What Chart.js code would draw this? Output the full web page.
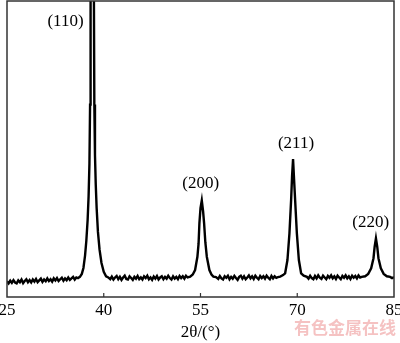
<!DOCTYPE html>
<html>
<head>
<meta charset="utf-8">
<script src="https://cdn.jsdelivr.net/npm/chart.js@4/dist/chart.umd.min.js"></script>
<style>
html,body{margin:0;padding:0;background:#fff;}
#wrap{width:400px;height:343px;}
</style>
</head>
<body>
<div id="wrap"><canvas id="c" width="400" height="343"></canvas></div>
<script>
// ---- data ----
const twoTheta = [
 25.00,25.25,25.50,25.75,26.00,26.25,26.50,26.75,27.00,27.25,27.50,27.75,28.00,28.25,28.50,28.75,
 29.00,29.25,29.50,29.75,30.00,30.25,30.50,30.75,31.00,31.25,31.50,31.75,32.00,32.25,32.50,32.75,
 33.00,33.25,33.50,33.75,34.00,34.25,34.50,34.75,35.00,35.25,35.50,35.75,
 36.00,36.30,36.60,36.85,37.10,37.30,37.50,37.65,37.78,37.88,37.96,38.20,38.46,38.54,38.64,38.76,
 38.90,39.10,39.35,39.65,40.00,40.36,40.70,
 41.00,41.25,41.50,41.75,42.00,42.25,42.50,42.75,43.00,43.25,43.50,43.75,44.00,44.25,44.50,44.75,
 45.00,45.25,45.50,45.75,46.00,46.25,46.50,46.75,47.00,47.25,47.50,47.75,48.00,48.25,48.50,48.75,
 49.00,49.25,49.50,49.75,50.00,50.25,50.50,50.75,51.00,51.25,51.50,51.75,52.00,52.25,52.50,52.75,
 53.00,53.40,53.80,54.16,54.52,54.70,54.83,55.00,55.20,55.40,55.56,55.75,55.98,56.38,56.70,57.00,57.40,
 57.75,58.00,58.25,58.50,58.75,59.00,59.25,59.50,59.75,60.00,60.25,60.50,60.75,61.00,61.25,61.50,
 61.75,62.00,62.25,62.50,62.75,63.00,63.25,63.50,63.75,64.00,64.25,64.50,64.75,65.00,65.25,65.50,
 65.75,66.00,66.25,66.50,66.75,
 67.00,67.35,67.80,68.12,68.48,68.79,69.05,69.20,69.35,69.50,69.67,69.94,70.25,70.60,71.00,71.50,
 71.75,72.00,72.25,72.50,72.75,73.00,73.25,73.50,73.75,74.00,74.25,74.50,74.75,75.00,75.25,75.50,
 75.75,76.00,76.25,76.50,76.75,77.00,77.25,77.50,77.75,78.00,78.25,78.50,78.75,79.00,79.25,79.50,79.75,
 80.00,80.53,81.00,81.46,81.82,82.00,82.20,82.40,82.59,82.96,83.40,83.89,84.40,84.70,85.00
];
const intensity = [
 5.3,4.6,5.5,4.8,5.7,4.9,4.6,5.6,5.0,5.9,4.7,5.4,6.0,5.0,5.7,4.9,
 5.9,5.2,6.1,5.0,5.6,6.2,5.1,5.9,5.3,6.3,5.4,6.0,5.2,6.3,5.6,6.4,
 5.4,6.0,6.5,5.5,6.3,5.7,6.6,5.8,6.3,6.8,5.9,6.6,
 6.4,6.8,7.8,9.8,14,19,26,34,45,65,110,1000,110,65,48,38,
 30,22,16,11.5,8.5,7.0,6.6,
 6.0,6.9,5.9,6.6,7.1,6.0,6.8,5.8,6.6,7.2,6.1,5.9,7.0,6.4,5.8,6.8,
 6.2,7.1,6.0,6.6,5.9,7.0,6.4,7.2,6.0,6.6,5.8,6.9,6.2,7.1,5.9,6.6,
 7.0,6.0,6.8,6.2,7.2,6.4,5.9,7.0,6.2,6.8,6.0,7.1,6.4,7.0,6.2,7.2,
 6.6,6.9,7.6,9.1,13.6,18,24.9,30,32.6,29,24.9,18.5,13.6,9.1,7.6,6.9,6.7,
 6.1,7.1,6.3,5.9,7.0,6.5,7.2,6.0,6.8,6.2,7.1,6.4,5.8,6.8,7.2,6.2,
 7.0,6.0,6.6,7.3,6.3,7.0,6.1,7.2,6.5,6.0,7.1,6.4,7.0,6.2,7.2,6.5,
 6.0,7.1,6.3,7.0,6.5,
 6.7,6.9,7.4,8.0,12.5,21.5,32.8,41,46.6,40,32.8,21.5,12.5,8.0,7.2,6.8,
 6.2,7.2,6.4,6.0,7.1,6.3,7.3,6.5,6.1,7.2,6.6,6.0,7.1,6.5,7.3,6.3,
 7.0,6.1,7.2,6.6,6.0,7.1,6.5,7.3,6.3,7.0,6.1,7.2,6.5,7.1,6.3,7.3,6.6,
 6.8,7.0,7.8,9.7,13.1,17,19.8,17,13.1,9.7,7.8,7.0,6.8,6.4,6.7
];
const xTickValues = [25, 40, 55, 70, 85];
const peakLabels = ['(110)', '(200)', '(211)', '(220)'];
const xAxisTitle = '2θ/(°)';
const watermark = '有色金属在线';

// ---- presentation ----
const labelPlacement = [
  {x: 34.07, y: 92.9},
  {x: 55.03, y: 38.2},
  {x: 69.81, y: 52.0},
  {x: 81.39, y: 25.2}
];

const framePlugin = {
  id: 'frame',
  afterDatasetsDraw(chart) {
    const {ctx, chartArea: a, scales} = chart;
    const xs = scales.x, ys = scales.y;
    ctx.save();
    ctx.strokeStyle = '#333';
    ctx.lineWidth = 1.5;
    ctx.strokeRect(a.left, a.top, a.right - a.left, a.bottom - a.top);
    // inward tick marks
    ctx.lineWidth = 1.2;
    xs.ticks.forEach(t => {
      if (t.value <= xs.min || t.value >= xs.max) return;
      const px = xs.getPixelForValue(t.value);
      ctx.beginPath();
      ctx.moveTo(px, a.bottom);
      ctx.lineTo(px, a.bottom - 4);
      ctx.stroke();
    });
    // peak labels
    ctx.fillStyle = '#000';
    ctx.font = '17px "Liberation Serif", "Times New Roman", serif';
    ctx.textAlign = 'center';
    ctx.textBaseline = 'middle';
    peakLabels.forEach((s, i) => {
      const p = labelPlacement[i];
      ctx.fillText(s, xs.getPixelForValue(p.x), ys.getPixelForValue(p.y));
    });
    // watermark
    ctx.fillStyle = 'rgba(232,120,120,0.45)';
    ctx.font = 'bold 17px "Noto Sans CJK SC", sans-serif';
    ctx.textAlign = 'right';
    ctx.textBaseline = 'middle';
    ctx.fillText(watermark, 396, 328);
    ctx.restore();
  }
};

new Chart(document.getElementById('c'), {
  type: 'line',
  data: {
    labels: twoTheta,
    datasets: [{
      data: twoTheta.map((t, i) => ({x: t, y: intensity[i]})),
      borderColor: '#000',
      borderWidth: 2.4,
      pointRadius: 0,
      tension: 0,
      fill: false
    }]
  },
  options: {
    responsive: false,
    animation: false,
    devicePixelRatio: 1,
    layout: {padding: {left: 7, right: 6, top: 1, bottom: 0}},
    plugins: {legend: {display: false}, tooltip: {enabled: false}},
    scales: {
      x: {
        type: 'linear',
        min: 25, max: 85,
        afterBuildTicks(axis) { axis.ticks = xTickValues.map(v => ({value: v})); },
        afterFit(axis) { axis.height = 46; axis.paddingLeft = 0; axis.paddingRight = 0; },
        grid: {display: false, drawTicks: false},
        border: {display: false},
        ticks: {
          color: '#000',
          padding: 3,
          maxRotation: 0,
          autoSkip: false,
          font: {family: '"Liberation Serif", "Times New Roman", serif', size: 17}
        },
        title: {
          display: true,
          text: xAxisTitle,
          color: '#000',
          padding: {top: 0, bottom: 0},
          font: {family: '"Liberation Serif", "Times New Roman", serif', size: 17}
        }
      },
      y: {
        display: false,
        min: 0, max: 100
      }
    }
  },
  plugins: [framePlugin]
});
</script>
</body>
</html>
